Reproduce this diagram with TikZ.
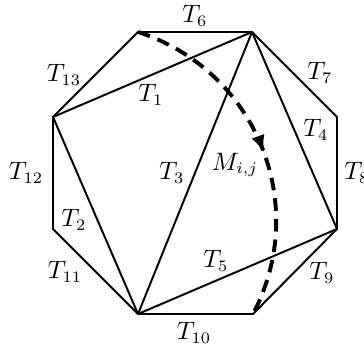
\documentclass[tikz,border=0pt]{standalone}
\usetikzlibrary{arrows.meta,decorations.markings}
\begin{document}
\begin{tikzpicture}[x=0.435pt,y=0.435pt,
  edge/.style={draw=black,line width=0.85pt,line join=round},
  flow/.style={draw=black,line width=1.7pt,dash pattern=on 5.5pt off 3.5pt,
    postaction={decorate},
    decoration={markings,mark=at position 0.52 with {\arrow{Latex[length=7.5pt,width=6pt]}}}},
  lbl/.style={inner sep=0pt,font=\fontsize{10.7}{13}\selectfont}]
\useasboundingbox (0,0) rectangle (364,345);
% octagon vertices
\coordinate (A) at (138,313);
\coordinate (B) at (252,313);
\coordinate (C) at (337,228);
\coordinate (D) at (337,116);
\coordinate (E) at (253,31);
\coordinate (F) at (138,31);
\coordinate (G) at (53,116);
\coordinate (H) at (53,228);
% outline
\draw[edge] (A) -- (B) -- (C) -- (D) -- (E) -- (F) -- (G) -- (H) -- cycle;
% triangulation
\draw[edge] (H) -- (B);
\draw[edge] (H) -- (F);
\draw[edge] (F) -- (B);
\draw[edge] (B) -- (D);
\draw[edge] (F) -- (D);
% dashed arc
\draw[flow] (A) to[bend left=50,looseness=1.04] (E);
% labels
\node[lbl] (t6) at (195,329) {$T_6$};
\node[lbl] (t13) at (64,270) {$T_{13}$};
\node[lbl] (t1) at (151,250) {$T_1$};
\node[lbl] (t7) at (320,272) {$T_7$};
\node[lbl] (t4) at (316,215) {$T_4$};
\node[lbl] (t12) at (26,172) {$T_{12}$};
\node[lbl] (t3) at (172,172) {$T_3$};
\node[lbl] (m) at (235,180) {$M_{i,j}$};
\node[lbl] (t8) at (357,172) {$T_8$};
\node[lbl] (t2) at (74,125) {$T_2$};
\node[lbl] (t11) at (65,73) {$T_{11}$};
\node[lbl] (t5) at (216,84) {$T_5$};
\node[lbl] (t9) at (322,72) {$T_9$};
\node[lbl] (t10) at (194,12) {$T_{10}$};
\end{tikzpicture}
\end{document}
